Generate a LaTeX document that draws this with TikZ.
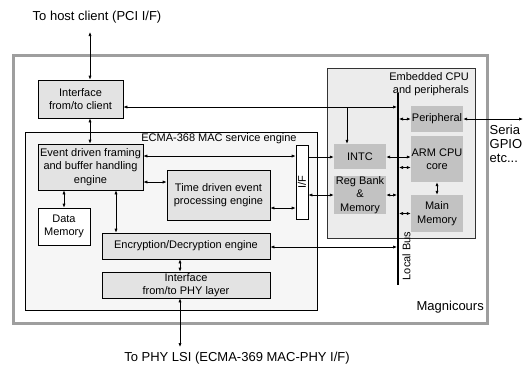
\documentclass[tikz,border=0pt]{standalone}
\usepackage{fontspec}
\setmainfont{Liberation Sans}
\usetikzlibrary{arrows.meta}
\definecolor{lightbox}{gray}{0.89}
\definecolor{macfill}{gray}{0.965}
\definecolor{embfill}{gray}{0.925}
\definecolor{cpubox}{gray}{0.76}
\definecolor{outerline}{gray}{0.62}
\newcommand\bigtxt{\fontsize{13}{14.5}\selectfont}
\newcommand\smtxt{\fontsize{11}{13.5}\selectfont}
\begin{document}
\begin{tikzpicture}[x=1pt,y=-1pt,
  >={Latex[length=4pt,width=3.2pt]},
  conn/.style={line width=0.7pt,<->},
  oneway/.style={line width=0.7pt,->},
  blockbox/.style={draw, line width=0.7pt, fill=lightbox, inner sep=0pt, align=center, font=\smtxt},
  whitebox/.style={draw, line width=0.7pt, fill=white, inner sep=0pt, align=center, font=\smtxt},
  cpublock/.style={fill=cpubox, inner sep=0pt, align=center, font=\smtxt},
  plaintxt/.style={inner sep=0pt, align=center, font=\smtxt},
  bigtext/.style={inner sep=0pt, align=center, font=\bigtxt}]
\useasboundingbox (0,0) rectangle (523,368);

% outer frame
\node[draw=outerline, line width=3pt, minimum width=474pt, minimum height=268pt, inner sep=0pt] (magni) at (250,189) {};
\node[bigtext, anchor=east] (magnilabel) at (484,307) {Magnicours};

% top / bottom texts
\node[bigtext] (host) at (97,17) {To host client (PCI I/F)};
\node[bigtext] (phylsi) at (237,358) {To PHY LSI (ECMA-369 MAC-PHY I/F)};

% MAC service engine
\node[draw, line width=0.7pt, fill=macfill, minimum width=292pt, minimum height=178pt, inner sep=0pt] (mac) at (171,221) {};
\node[plaintxt] (maclabel) at (219,139) {ECMA-368 MAC service engine};

% Embedded CPU
\node[draw=black!80, line width=0.7pt, fill=embfill, minimum width=148pt, minimum height=170pt, inner sep=0pt] (emb) at (401,153) {};
\node[plaintxt, align=right, anchor=east] (emblabel) at (469,84) {Embedded CPU\\and peripherals};

% blocks
\node[blockbox, minimum width=85pt, minimum height=38pt] (iclient) at (80.5,99) {Interface\\from/to client};
\node[blockbox, minimum width=105pt, minimum height=46pt] (event) at (90.5,167) {Event driven framing\\and buffer handling\\engine};
\node[blockbox, minimum width=103pt, minimum height=50pt] (time) at (218.5,195) {Time driven event\\processing engine};
\node[whitebox, minimum width=52pt, minimum height=37pt] (dmem) at (64,226.5) {Data\\Memory};
\node[blockbox, minimum width=168pt, minimum height=26pt] (enc) at (186,246) {Encryption/Decryption engine};
\node[blockbox, minimum width=168pt, minimum height=26pt] (phy) at (186,285) {Interface\\from/to PHY layer};
\node[whitebox, minimum width=12pt, minimum height=74pt, label={[rotate=90,font=\smtxt,inner sep=0pt]center:I/F}] (ifb) at (302,182) {};

% CPU blocks
\node[cpublock, minimum width=52pt, minimum height=25pt] (intc) at (360,156.5) {INTC};
\node[cpublock, minimum width=52pt, minimum height=38pt] (reg) at (360,195) {Reg Bank\\\&\\Memory};
\node[cpublock, minimum width=52pt, minimum height=26pt] (peri) at (437,119) {Peripheral};
\node[cpublock, minimum width=52pt, minimum height=46pt] (arm) at (437,159) {ARM CPU\\core};
\node[cpublock, minimum width=52pt, minimum height=37pt] (mmem) at (437,213.5) {Main\\Memory};

% local bus
\coordinate (bustop) at (398,93);
\coordinate (busbot) at (398,285);
\draw[line width=2.2pt] (bustop) -- (busbot);
\node[plaintxt, rotate=90] (buslabel) at (406.5,256) {Local Bus};
\coordinate (busL) at (397,0);
\coordinate (busR) at (399,0);

% serial text
\node[inner sep=0pt, align=left, anchor=west, font=\fontsize{13}{14}\selectfont] (serial) at (489.5,144) {Seria\\GPIO\\etc...};
\coordinate (serext) at (523,119);

% level coordinates
\coordinate (y107) at (0,107);
\coordinate (y156) at (0,156);
\coordinate (y157) at (0,157);
\coordinate (y168) at (0,167.5);
\coordinate (y182) at (0,182);
\coordinate (y195) at (0,195);
\coordinate (y208) at (0,208);
\coordinate (y247) at (0,247);
\coordinate (x116) at (116,0);
\coordinate (x180) at (180,0);
\coordinate (hostend) at (90,32);
\coordinate (phyend) at (180,347);
\coordinate (brA) at (347,107);

% connectors
\draw[conn] (hostend) -- (hostend |- iclient.north);
\draw[conn] (hostend |- iclient.south) -- (hostend |- event.north);
\draw[conn] (iclient.east |- y107) -- (busL |- y107);
\draw[oneway] (brA) -- (brA |- intc.north);
\draw[conn] (event.east |- y156) -- (ifb.west |- y156);
\draw[conn] (event.east |- y182) -- (time.west |- y182);
\draw[conn] (time.east |- y208) -- (ifb.west |- y208);
\draw[oneway] (ifb.east |- y157) -- (intc.west |- y157);
\draw[conn] (ifb.east |- y195) -- (reg.west |- y195);
\draw[conn] (intc.east |- y157) -- (arm.west |- y157);
\draw[conn] (busR |- peri.west) -- (peri.west);
\draw[conn] (busR |- y168) -- (arm.west |- y168);
\draw[conn] (reg.east |- y195) -- (busL |- y195);
\draw[conn] (busR |- mmem.west) -- (mmem.west);
\draw[conn] (arm.south) -- (mmem.north);
\draw[conn] (peri.east) -- (serext);
\draw[conn] (dmem.north |- event.south) -- (dmem.north);
\draw[conn] (x116 |- event.south) -- (x116 |- enc.north);
\draw[conn] (enc.east |- y247) -- (busL |- y247);
\draw[conn] (x180 |- enc.south) -- (x180 |- phy.north);
\draw[conn] (x180 |- phy.south) -- (phyend);
\end{tikzpicture}
\end{document}
